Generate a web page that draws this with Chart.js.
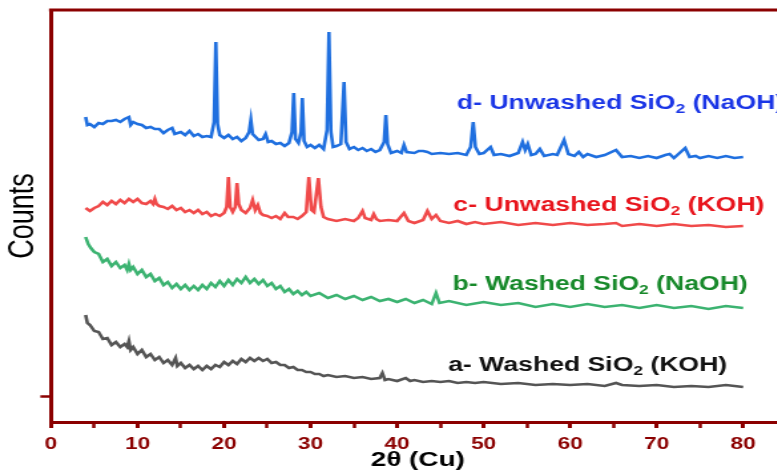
<!DOCTYPE html>
<html>
<head>
<meta charset="utf-8">
<script src="https://cdn.jsdelivr.net/npm/chart.js@4"></script>
<style>
  html, body { margin: 0; padding: 0; background: #fff; overflow: hidden; }
  /* the original figure is stretched sideways, so the whole chart is too */
  #wrap { width: 590px; height: 476px; transform: scaleX(1.33); transform-origin: 0 0; }
</style>
</head>
<body>
<div id="wrap"><canvas id="xrd" width="590" height="476"></canvas></div>
<script>
// XRD patterns, offset vertically (arbitrary counts)
const seriesNames = [
    'a- Washed SiO\u2082 (KOH)',
    'b- Washed SiO\u2082 (NaOH)',
    'c- Unwashed SiO\u2082 (KOH)',
    'd- Unwashed SiO\u2082 (NaOH)'
];

const thetaA = [4, 4.2, 4.5, 5, 5.5, 6, 6.5, 7, 7.5, 8, 8.5, 8.8, 9, 9.2, 9.5, 10, 10.5, 11, 11.5, 12,
    12.5, 13, 13.5, 14, 14.4, 14.6, 15, 15.5, 16, 16.5, 17, 17.5, 18, 18.5, 19, 19.5, 20, 20.5, 21, 21.5,
    22, 22.5, 23, 23.5, 24, 24.5, 25, 25.5, 26, 26.5, 27, 27.5, 28, 28.5, 29, 29.5, 30, 30.5, 31, 31.5,
    32, 33, 34, 35, 36, 37, 38, 38.3, 38.6, 39, 40, 41, 41.5, 42, 43, 44, 45, 46, 47, 48,
    49, 50, 52, 54, 56, 58, 60, 62, 64, 65.3, 66, 68, 70, 72, 74, 76, 78, 79, 80];
const countsA = [107, 99, 97, 91, 90, 83, 84, 77, 80, 75, 78, 75, 81, 72, 75, 68, 72, 65, 68, 62,
    65, 59, 62, 57, 64, 56, 59, 54, 57, 53, 56, 52, 56, 53, 57, 55, 60, 57, 61, 58,
    63, 60, 64, 61, 64, 61, 63, 59, 60, 57, 57, 54, 55, 52, 52, 50, 50, 48, 48, 46,
    47, 45, 46, 44, 45, 43, 44, 49, 42, 43, 41, 44, 41, 42, 40, 41, 40, 41, 39, 40,
    39, 40, 38, 39, 37, 38, 37, 38, 36, 39, 37, 36, 37, 35, 36, 35, 37, 36, 35];

const thetaB = [4, 4.3, 4.6, 5, 5.5, 6, 6.5, 7, 7.5, 8, 8.5, 8.8, 9, 9.2, 9.5, 10, 10.5, 11, 11.5, 12,
    12.5, 13, 13.5, 14, 14.5, 15, 15.5, 16, 16.5, 17, 17.5, 18, 18.5, 19, 19.5, 20, 20.5, 21, 21.5, 22,
    22.5, 23, 23.5, 24, 24.5, 25, 25.5, 26, 26.5, 27, 27.5, 28, 28.5, 29, 29.5, 30, 31, 32, 33, 34,
    35, 36, 37, 38, 39, 40, 41, 42, 43, 44, 44.5, 44.9, 46, 48, 50, 52, 54, 56, 58, 60,
    62, 64, 66, 68, 70, 72, 74, 76, 78, 80];
const countsB = [185, 178, 174, 170, 168, 160, 163, 156, 160, 154, 157, 152, 158, 152, 155, 148, 152, 145, 148, 141,
    144, 137, 140, 134, 138, 133, 137, 132, 136, 132, 137, 133, 139, 135, 141, 136, 142, 137, 143, 139,
    145, 139, 143, 138, 142, 136, 139, 133, 136, 130, 133, 128, 131, 127, 130, 126, 129, 124, 127, 123,
    126, 122, 125, 121, 123, 120, 123, 119, 122, 118, 129, 119, 121, 117, 120, 117, 119, 115, 118, 115,
    118, 115, 117, 114, 117, 114, 116, 113, 116, 114];

const thetaC = [4, 4.5, 5, 5.5, 6, 6.5, 7, 7.5, 8, 8.5, 9, 9.5, 10, 10.5, 11, 11.5, 11.8, 12, 12.2, 12.5,
    13, 13.5, 14, 14.5, 15, 15.5, 16, 16.5, 17, 17.5, 18, 18.5, 19, 19.5, 20, 20.3, 20.5, 20.7, 21, 21.3,
    21.5, 21.7, 22, 22.5, 23, 23.3, 23.6, 23.9, 24.2, 24.5, 25, 25.5, 26, 26.5, 27, 27.4, 28, 28.5, 29, 29.5,
    29.8, 30.1, 30.4, 30.9, 31.2, 31.5, 32, 33, 34, 35, 35.5, 36, 36.3, 37, 37.3, 37.6, 38, 39, 40, 40.8,
    41.3, 42, 43, 43.5, 44, 44.5, 45, 46, 47, 48, 49, 50, 52, 54, 56, 58, 60, 62, 64, 65.3,
    66, 68, 70, 72, 74, 76, 78, 80];
const countsC = [214, 211, 214, 216, 220, 217, 221, 218, 222, 219, 223, 220, 223, 219, 218, 221, 218, 223, 218, 216,
    215, 213, 216, 212, 214, 210, 212, 209, 212, 208, 210, 206, 208, 206, 209, 215, 245, 215, 210, 215,
    239, 218, 212, 209, 214, 222, 212, 217, 209, 207, 206, 204, 206, 203, 209, 205, 205, 203, 206, 210,
    245, 212, 210, 244, 215, 205, 203, 201, 203, 201, 204, 211, 204, 202, 208, 203, 201, 202, 201, 209,
    201, 199, 202, 211, 203, 207, 201, 199, 201, 198, 200, 198, 200, 197, 199, 197, 199, 197, 198, 199,
    196, 198, 196, 198, 196, 197, 195, 196];

const thetaD = [4, 4.2, 4.5, 5, 5.5, 6, 6.5, 7, 7.5, 8, 8.5, 9, 9.2, 9.5, 10, 10.5, 11, 11.5, 12, 12.5,
    13, 13.5, 14, 14.3, 15, 15.5, 16, 16.5, 17, 17.5, 18, 18.5, 18.85, 19.05, 19.25, 19.5, 20, 20.5, 21, 21.5,
    22, 22.5, 22.9, 23.1, 23.3, 24, 24.5, 24.8, 25.1, 25.5, 26, 26.5, 27, 27.5, 27.85, 28.05, 28.25, 28.6, 28.9, 29.05,
    29.25, 29.6, 30, 30.5, 31, 31.5, 31.9, 32.12, 32.35, 32.6, 33, 33.5, 33.87, 34.1, 34.5, 35, 35.5, 36, 36.5, 37,
    37.5, 38, 38.5, 38.7, 38.9, 39.3, 40, 40.5, 40.8, 41.1, 42, 42.5, 43, 43.5, 44, 45, 46, 47, 48, 48.5,
    48.8, 49.05, 49.5, 50, 50.8, 51.2, 52, 53, 54, 54.5, 54.8, 55.1, 55.5, 56, 56.5, 57, 58, 58.5, 59.3, 59.8,
    60.5, 61, 61.5, 62, 63, 64, 65.3, 66, 67, 68, 69, 70, 71, 71.5, 72, 73.3, 73.8, 74.5, 75, 76,
    77, 78, 79, 80];
const countsD = [305, 297, 298, 295, 299, 298, 301, 301, 302, 300, 303, 305, 297, 300, 298, 297, 294, 295, 293, 293,
    289, 292, 294, 288, 290, 287, 291, 286, 288, 285, 286, 285, 300, 380, 298, 287, 284, 287, 283, 285,
    281, 284, 290, 302, 288, 282, 283, 288, 280, 281, 278, 279, 276, 279, 290, 329, 283, 279, 290, 324,
    281, 275, 277, 274, 277, 273, 292, 390, 290, 275, 276, 278, 340, 280, 273, 275, 272, 274, 271, 273,
    270, 272, 280, 307, 278, 269, 271, 269, 277, 270, 269, 271, 271, 270, 268, 269, 268, 269, 267, 275,
    300, 275, 268, 269, 275, 267, 268, 266, 269, 280, 272, 278, 267, 268, 273, 266, 268, 267, 282, 268,
    266, 270, 265, 268, 265, 267, 272, 265, 266, 264, 266, 264, 267, 268, 264, 274, 265, 266, 264, 266,
    264, 266, 264, 265];

const yTicks = [26];

// styling
const frameColor = '#8b0000';
const lineColors = ['#555555', '#3cb371', '#f04a4a', '#1f6fdf'];
const textColors = ['#111111', '#17892a', '#e8141c', '#1a35e6'];
const labelSpots = [[45.9, 57], [46.4, 138], [46.5, 217], [46.9, 319]]; // [2theta, counts] of label start
const sans = '"Liberation Sans", Arial, sans-serif';

function toPoints(xs, ys) {
    return xs.map((x, i) => ({ x: x, y: ys[i] }));
}

const topFrame = {
    id: 'topFrame',
    afterDraw(chart) {
        const { ctx, chartArea } = chart;
        ctx.save();
        ctx.strokeStyle = frameColor;
        ctx.lineWidth = 3;
        ctx.beginPath();
        ctx.moveTo(chartArea.left - 1.5, chartArea.top);
        ctx.lineTo(chartArea.right, chartArea.top);
        ctx.stroke();
        ctx.restore();
    }
};

// series names written next to each curve, with SiO2 subscript
const seriesLabels = {
    id: 'seriesLabels',
    afterDatasetsDraw(chart) {
        const { ctx, scales } = chart;
        ctx.save();
        ctx.textBaseline = 'middle';
        chart.data.datasets.forEach((ds, i) => {
            const parts = ds.label.split('\u2082');
            let px = scales.x.getPixelForValue(labelSpots[i][0]);
            const py = scales.y.getPixelForValue(labelSpots[i][1]);
            ctx.fillStyle = textColors[i];
            ctx.font = 'bold 20px ' + sans;
            ctx.fillText(parts[0], px, py);
            px += ctx.measureText(parts[0]).width;
            ctx.font = 'bold 13px ' + sans;
            ctx.fillText('2', px, py + 6);
            px += ctx.measureText('2').width;
            ctx.font = 'bold 20px ' + sans;
            ctx.fillText(parts[1], px, py);
        });
        ctx.restore();
    }
};

const xs = [thetaA, thetaB, thetaC, thetaD];
const ys = [countsA, countsB, countsC, countsD];

new Chart(document.getElementById('xrd'), {
    type: 'line',
    data: {
        datasets: seriesNames.map((name, i) => ({
            label: name,
            data: toPoints(xs[i], ys[i]),
            borderColor: lineColors[i],
            borderWidth: 2.6,
            pointRadius: 0,
            tension: 0,
            fill: false
        }))
    },
    options: {
        responsive: false,
        animation: false,
        layout: { padding: { top: 10, left: 0, right: 0, bottom: 0 } },
        plugins: {
            legend: { display: false },
            tooltip: { enabled: false }
        },
        scales: {
            x: {
                type: 'linear',
                min: 0,
                max: 84.8,
                afterFit: s => { s.height = 54; },
                ticks: {
                    stepSize: 5,
                    includeBounds: false,
                    autoSkip: false,
                    maxRotation: 0,
                    padding: 6,
                    color: frameColor,
                    font: { family: sans, size: 17, weight: 'bold' },
                    callback: v => (v % 10 === 0 ? v : '')
                },
                grid: {
                    drawOnChartArea: false,
                    tickLength: 6,
                    tickColor: frameColor,
                    tickWidth: c => (c.tick && c.tick.value % 10 === 0 ? 3 : 2.5)
                },
                border: { color: frameColor, width: 3 },
                title: {
                    display: true,
                    text: '2\u03b8 (Cu)',
                    color: '#000',
                    font: { family: sans, size: 21, weight: 'bold' },
                    padding: { top: 0, bottom: 3 }
                }
            },
            y: {
                min: 0,
                max: 412,
                afterFit: s => { s.width = 38.35; },
                afterBuildTicks: s => { s.ticks = yTicks.map(v => ({ value: v })); },
                ticks: { callback: () => '', padding: 0 },
                grid: {
                    drawOnChartArea: false,
                    tickLength: 8,
                    tickColor: frameColor,
                    tickWidth: 2.5
                },
                border: { color: frameColor, width: 3 },
                title: {
                    display: true,
                    text: 'Counts',
                    color: '#000',
                    font: { family: sans, size: 27, weight: 'normal' },
                    padding: { top: 1, bottom: 0 }
                }
            }
        }
    },
    plugins: [topFrame, seriesLabels]
});
</script>
</body>
</html>
